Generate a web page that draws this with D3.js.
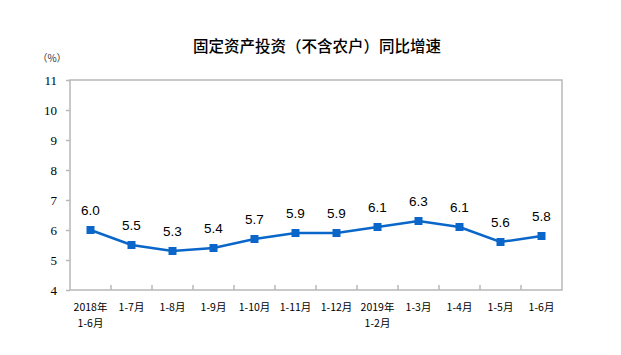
<!DOCTYPE html>
<html><head><meta charset="utf-8">
<script src="https://cdn.jsdelivr.net/npm/d3@7"></script>
<style>body{margin:0;background:#fff;}svg{display:block;}</style>
</head><body>
<script>
const categories = [["2018年","1-6月"],["1-7月"],["1-8月"],["1-9月"],["1-10月"],["1-11月"],["1-12月"],["2019年","1-2月"],["1-3月"],["1-4月"],["1-5月"],["1-6月"]];
const values = [6.0,5.5,5.3,5.4,5.7,5.9,5.9,6.1,6.3,6.1,5.6,5.8];
const yTicks = [4,5,6,7,8,9,10,11];
const title = "固定资产投资（不含农户）同比增速";
const unit = "（%）";

const W=621,H=355;
const mLeft=70,mRight=562,mTop=80,mBottom=290;
const svg=d3.select("body").append("svg").attr("width",W).attr("height",H);
const x=d3.scaleBand().domain(d3.range(categories.length)).range([mLeft,mRight]);
const y=d3.scaleLinear().domain([4,11]).range([mBottom,mTop]);
const grey="#b8b8b8";
const cjk="'Noto Sans CJK SC', sans-serif";

svg.append("text").attr("x",317).attr("y",52).attr("text-anchor","middle")
  .style("font-family",cjk).style("font-size","15.5px").style("font-weight",500).attr("fill","#000").text(title);
svg.append("text").attr("x",52).attr("y",62).attr("text-anchor","middle")
  .style("font-family",cjk).style("font-size","10px").attr("fill","#333").text(unit);

// frame
svg.append("rect").attr("x",mLeft).attr("y",mTop).attr("width",mRight-mLeft).attr("height",mBottom-mTop)
  .attr("fill","none").attr("stroke",grey).attr("stroke-width",1.5);

// y axis
const ya=svg.append("g").attr("transform",`translate(${mLeft},0)`)
  .call(d3.axisLeft(y).tickValues(yTicks).tickFormat(d3.format("d")).tickSize(4).tickPadding(9));
ya.select(".domain").remove();
ya.selectAll("line").attr("stroke",grey).attr("stroke-width",1.5);
ya.selectAll("text").style("font-family","'Liberation Serif', 'Times New Roman', serif").style("font-size","13px").attr("fill","#000");

// x tick marks at boundaries
const bounds=d3.range(1,categories.length);
svg.selectAll(".xt").data(bounds).enter().append("line")
  .attr("x1",d=>x(d)).attr("x2",d=>x(d)).attr("y1",mBottom).attr("y2",mBottom-5)
  .attr("stroke",grey).attr("stroke-width",1.5);

// x labels
const xl=svg.selectAll(".xl").data(categories).enter().append("text")
  .attr("text-anchor","middle").style("font-family",cjk).style("font-size","10.5px").attr("fill","#000");
xl.each(function(d,i){
  const t=d3.select(this);
  d.forEach((s,j)=>t.append("tspan").attr("x",x(i)+x.bandwidth()/2).attr("y",311+j*16).text(s));
});

// line
const cx=i=>x(i)+x.bandwidth()/2;
svg.append("path").datum(values)
  .attr("d",d3.line().x((d,i)=>cx(i)).y(d=>y(d)))
  .attr("fill","none").attr("stroke","#0a66c8").attr("stroke-width",2.5);
svg.selectAll(".m").data(values).enter().append("rect")
  .attr("x",(d,i)=>cx(i)-4).attr("y",d=>y(d)-4).attr("width",8).attr("height",8).attr("fill","#0a66c8");
svg.selectAll(".lab").data(values).enter().append("text")
  .attr("x",(d,i)=>cx(i)).attr("y",d=>y(d)-15).attr("text-anchor","middle")
  .style("font-family","'Liberation Sans', Arial, sans-serif").style("font-size","13.5px").attr("fill","#000")
  .text(d=>d.toFixed(1));
</script>
</body></html>
